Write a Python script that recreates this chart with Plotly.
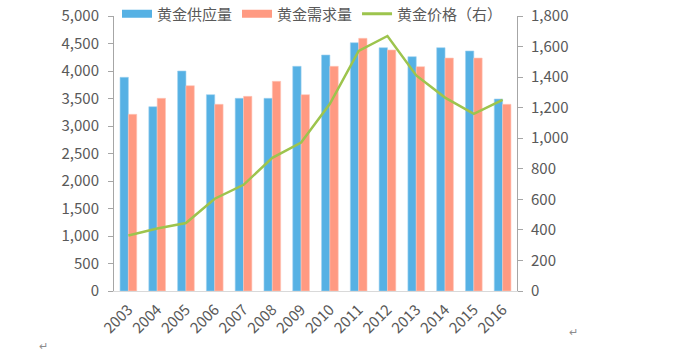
import plotly.graph_objects as go

years = ["2003","2004","2005","2006","2007","2008","2009","2010","2011","2012","2013","2014","2015","2016"]
supply = [3885, 3351, 4000, 3570, 3503, 3503, 4085, 4291, 4515, 4424, 4261, 4424, 4364, 3491]
demand = [3212, 3503, 3733, 3394, 3539, 3812, 3570, 4085, 4594, 4382, 4079, 4236, 4236, 3394]
price = [363, 409, 445, 604, 695, 872, 972, 1225, 1572, 1669, 1411, 1266, 1160, 1251]

left_ticks = [0, 500, 1000, 1500, 2000, 2500, 3000, 3500, 4000, 4500, 5000]
right_ticks = [0, 200, 400, 600, 800, 1000, 1200, 1400, 1600, 1800]

BLUE = "#56B1E4"
SALMON = "#FF9A82"
GREEN = "#9DC44D"
GRAY = "#595959"
FONT = "Noto Sans CJK SC"

fig = go.Figure()
fig.add_trace(go.Bar(x=years, y=supply, name="黄金供应量", marker=dict(color=BLUE, line=dict(color="#9fd2f0", width=0.6)), showlegend=False))
fig.add_trace(go.Bar(x=years, y=demand, name="黄金需求量", marker=dict(color=SALMON, line=dict(color="#ffc6b8", width=0.6)), showlegend=False))
fig.add_trace(go.Scatter(x=years, y=price, name="黄金价格(右)", mode="lines", line=dict(color=GREEN, width=2.5), yaxis="y2", showlegend=False))

# legend entries
fig.add_trace(go.Scatter(x=[None], y=[None], mode="lines", name="黄金供应量", line=dict(color=BLUE, width=8)))
fig.add_trace(go.Scatter(x=[None], y=[None], mode="lines", name="黄金需求量", line=dict(color=SALMON, width=8)))
fig.add_trace(go.Scatter(x=[None], y=[None], mode="lines", name="黄金价格（右）", line=dict(color=GREEN, width=3)))

W, H = 690, 362
fig.update_layout(
    width=W, height=H,
    margin=dict(l=114, r=173, t=16, b=71, autoexpand=False),
    paper_bgcolor="white", plot_bgcolor="white",
    barmode="group", bargap=0.42, bargroupgap=0,
    font=dict(family=FONT, size=14, color=GRAY),
    legend=dict(orientation="h", x=117/W, xref="container", y=1 - 14/H, yref="container",
                xanchor="left", yanchor="middle",
                font=dict(family=FONT, size=15, color=GRAY), itemwidth=30,
                bgcolor="rgba(0,0,0,0)", traceorder="normal"),
    xaxis=dict(tickangle=-45, showline=True, linecolor="#D9D9D9", linewidth=1, automargin=False,
               ticks="", showgrid=False, ticklabelstandoff=3,
               tickfont=dict(size=15, color=GRAY, family=FONT)),
    yaxis=dict(range=[0, 5000], tickvals=left_ticks, tickformat=",", showline=True, automargin=False,
               linecolor="#A6A6A6", ticks="outside", ticklen=5, tickcolor="#A6A6A6",
               ticklabelstandoff=6,
               showgrid=False, zeroline=False, tickfont=dict(size=15, color=GRAY, family=FONT)),
    yaxis2=dict(range=[0, 1800], tickvals=right_ticks, tickformat=",", overlaying="y", side="right",
                automargin=False, ticklabelstandoff=5,
                showline=True, linecolor="#A6A6A6", ticks="outside", ticklen=5, tickcolor="#A6A6A6",
                showgrid=False, zeroline=False, tickfont=dict(size=15, color=GRAY, family=FONT)),
)

fig.add_annotation(text="↵", xref="paper", yref="paper", x=-0.19, y=-0.233, showarrow=False,
                   font=dict(size=11, color="#8c8c8c"))
fig.add_annotation(text="↵", xref="paper", yref="paper", x=1.156, y=-0.18, showarrow=False,
                   font=dict(size=11, color="#8c8c8c"))

fig.write_html("out.html", config={"displayModeBar": False},
               post_script="document.body.style.margin='0';document.body.style.overflow='hidden';")
